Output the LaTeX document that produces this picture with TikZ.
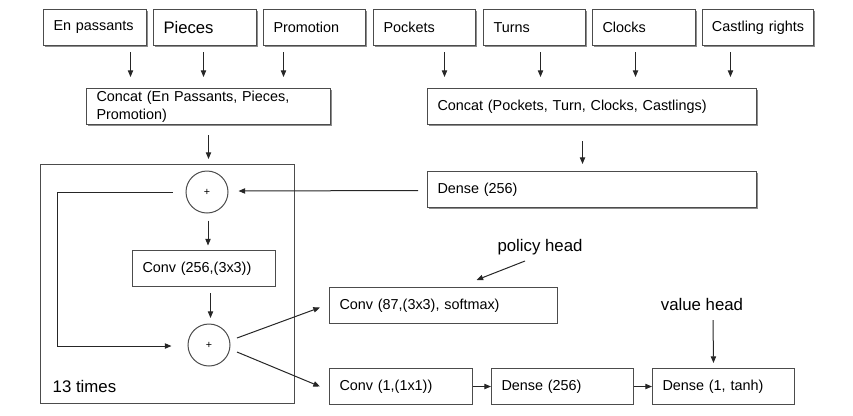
\documentclass[tikz,border=0pt]{standalone}
\usepackage{fontspec}
\setmainfont{Liberation Sans}
\usetikzlibrary{arrows.meta,shadows}

\begin{document}
\begin{tikzpicture}[x=0.75pt, y=-0.75pt,
    font=\fontsize{10.8}{13.5}\selectfont,
    box/.style={draw=black!70, line width=0.75pt, anchor=north west, inner xsep=7.5pt, inner ysep=0pt, minimum height=27pt, align=left, fill=white},
    sbox/.style={box, drop shadow={shadow xshift=1pt, shadow yshift=-1pt, fill=black, opacity=0.45}},
    sum/.style={draw=black!70, line width=0.75pt, circle, minimum size=31.5pt, inner sep=0pt, font=\fontsize{8}{8}\selectfont},
    arr/.style={draw=black!85, line width=0.75pt, -{Triangle[length=5pt, width=4pt]}},
    lbl/.style={font=\fontsize{12.6}{15}\selectfont}]
    \useasboundingbox (0,0) rectangle (853,415);
    \node[sbox, text width=62.25pt] (enp) at (43,9) {En passants};
    \node[sbox, text width=62.25pt, font=\fontsize{12.5}{15}\selectfont] (pieces) at (153,9) {Pieces};
    \node[sbox, text width=61.5pt] (promo) at (263,9) {Promotion};
    \node[sbox, text width=61.5pt] (pockets) at (373,9) {Pockets};
    \node[sbox, text width=61.5pt] (turns) at (483,9) {Turns};
    \node[sbox, text width=62.25pt] (clocks) at (592,9) {Clocks};
    \node[sbox, text width=69pt, inner xsep=7.1pt] (castling) at (702,9) {\mbox{Castling rights}};
    \node[sbox, text width=168pt] (concat1) at (86,88) {Concat (En Passants, Pieces,\\Promotion)};
    \node[sbox, text width=231.75pt] (concat2) at (427,88) {Concat (Pockets, Turn, Clocks, Castlings)};
    \node[sbox, text width=231.75pt] (dense1) at (427,171) {Dense (256)};
    \node[draw=black!70, line width=0.75pt, anchor=north west, minimum width=190.5pt, minimum height=179.25pt] (loop) at (40,164) {};
    \node[lbl, anchor=west] (times) at (48,386) {13 times};
    \node[sum] (sum1) at (207,192) {+};
    \node[box, text width=92.25pt] (conv256) at (132,250) {Conv (256,(3x3))};
    \node[sum] (sum2) at (209,345) {+};
    \node[box, text width=156pt] (convp) at (329,287) {Conv (87,(3x3), softmax)};
    \node[box, text width=92.25pt] (conv1) at (329,368) {Conv (1,(1x1))};
    \node[box, text width=91.5pt] (dense2) at (491,368) {Dense (256)};
    \node[box, text width=91.5pt] (dense3) at (652,368) {Dense (1, tanh)};
    \node[lbl] (policy) at (540,247) {policy head};
    \node[lbl] (value) at (702,304) {value head};
    \draw[arr] ([shift={(35.5,6)}]enp.south) -- ++(0,25);
    \draw[arr] ([shift={(-1.5,6)}]pieces.south) -- ++(0,25);
    \draw[arr] ([shift={(-31,6)}]promo.south) -- ++(0,25);
    \draw[arr] ([shift={(20,6)}]pockets.south) -- ++(0,25);
    \draw[arr] ([shift={(6,6)}]turns.south) -- ++(0,25);
    \draw[arr] ([shift={(-8.5,6)}]clocks.south) -- ++(0,25);
    \draw[arr] ([shift={(-27.5,6)}]castling.south) -- ++(0,25);
    \draw[arr] ([shift={(0,10)}]concat1.south) -- ++(0,24);
    \draw[arr] ([shift={(-9.5,16)}]concat2.south) -- ++(0,23);
    \draw[arr] ([shift={(-9,1)}]dense1.west) -- ([shift={(10,-1)}]sum1.east);
    \draw[arr] ([shift={(1,7)}]sum1.south) -- ++(0,25);
    \draw[arr] ([shift={(6.5,6)}]conv256.south) -- ++(0,25);
    \draw[arr] ([shift={(-13,0)}]sum1.west) -- ++(-115,0) |- ([shift={(-16,1)}]sum2.west);
    \draw[arr] ([shift={(28,-7)}]sum2.center) -- ([shift={(-9,2)}]convp.west);
    \draw[arr] ([shift={(28,7)}]sum2.center) -- ([shift={(-9,0)}]conv1.west);
    \draw[arr] (conv1.east) -- (dense2.west);
    \draw[arr] (dense2.east) -- (dense3.west);
    \draw[arr] ([shift={(-15,14)}]policy.center) -- ([shift={(33,-7)}]convp.north);
    \draw[arr] ([shift={(11,16)}]value.center) -- ([shift={(-10,-5)}]dense3.north);
\end{tikzpicture}
\end{document}
